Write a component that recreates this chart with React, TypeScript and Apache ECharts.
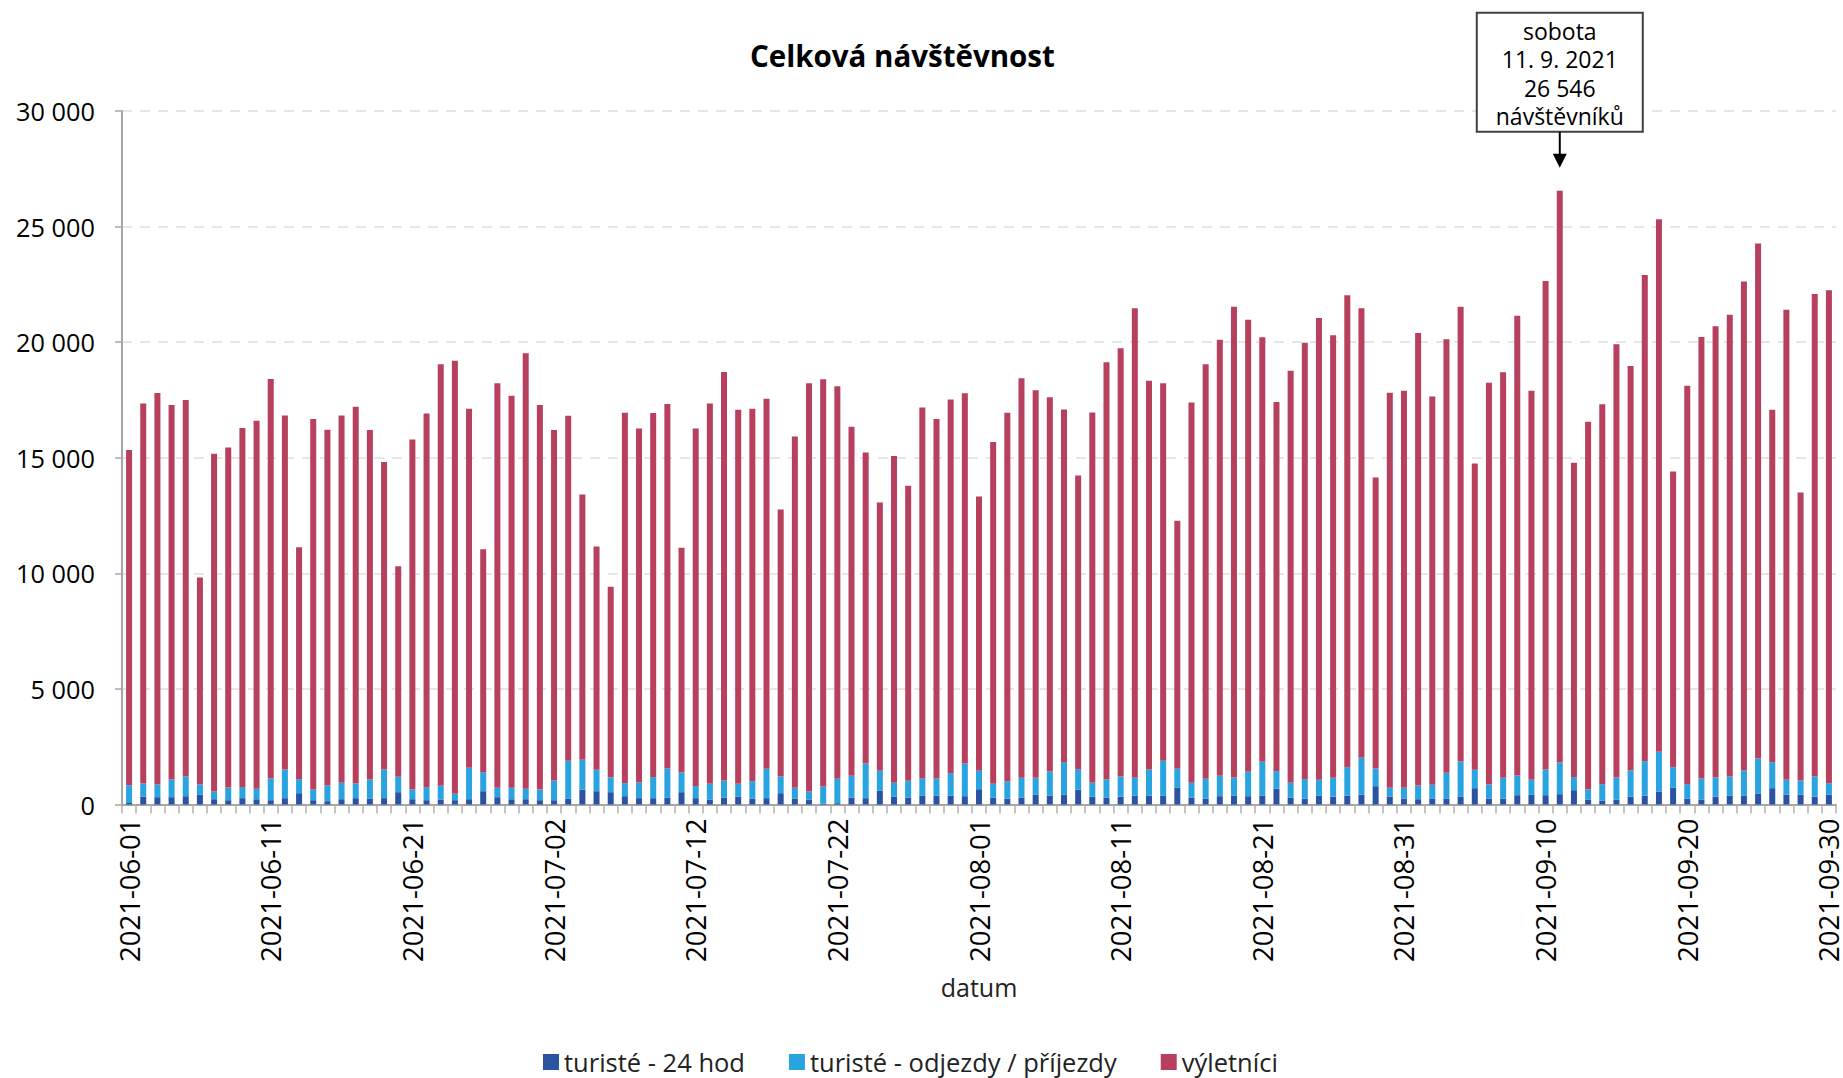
import React, { useEffect, useRef } from "react";
import * as echarts from "echarts";

// ---- data ----
const startDate = "2021-06-01";
const endDate = "2021-09-30";
const missingDates = ["2021-06-24"]; // one day has no record in the source

const seriesNames = ["turisté - 24 hod", "turisté - odjezdy / příjezdy", "výletníci"];

const turiste24: number[] = [
  60, 346, 317, 317, 360, 418, 230, 187, 274, 230, 187, 274, 490, 187, 144, 230, 274, 259, 274, 533,
  230, 187, 216, 187, 230, 576, 317, 230, 230, 187, 187, 259, 648, 576, 533, 360, 274, 274, 303, 533,
  274, 216, 303, 346, 259, 274, 490, 259, 216, 43, 58, 303, 274, 591, 331, 303, 389, 389, 389, 360,
  663, 303, 259, 303, 432, 389, 432, 648, 331, 303, 346, 389, 389, 389, 735, 303, 259, 360, 389, 360,
  389, 692, 303, 259, 389, 346, 389, 432, 793, 346, 259, 230, 259, 259, 331, 706, 259, 259, 403, 418,
  403, 447, 620, 216, 173, 216, 346, 389, 562, 721, 259, 216, 346, 389, 389, 476, 706, 432, 432, 346,
  432,
];

const turisteOdjezdy: number[] = [
  776, 562, 548, 764, 850, 447, 332, 548, 475, 447, 937, 1239, 605, 461, 677, 707, 634, 822, 1239, 663,
  418, 562, 591, 274, 1355, 822, 404, 491, 447, 461, 851, 1629, 1283, 923, 634, 562, 677, 908, 1253, 850,
  519, 677, 735, 547, 750, 1268, 720, 462, 346, 735, 1052, 936, 1498, 864, 606, 720, 749, 735, 966, 1412,
  792, 590, 735, 850, 721, 1038, 1398, 879, 606, 778, 864, 764, 1124, 1499, 807, 634, 851, 879, 778, 1052,
  1455, 749, 634, 836, 677, 807, 1225, 1585, 763, 375, 462, 591, 591, 1110, 1528, 793, 606, 894, 851, 648,
  1110, 1369, 562, 432, 706, 951, 1124, 1484, 1715, 893, 620, 908, 821, 821, 1081, 1513, 1124, 634, 606, 864,
  490,
];

const vyletnici: number[] = [
  14496, 16444, 16935, 16199, 16286, 8955, 14611, 14712, 15535, 15925, 17281, 15320, 10038, 16026, 15391, 15896, 16300, 15117, 13299, 9114,
  15146, 16170, 18233, 18738, 15536, 9648, 17497, 16963, 18840, 16632, 15160, 14930, 11482, 9663, 8249, 16026, 15319, 15752, 15767, 9721,
  15477, 16459, 17671, 16185, 16112, 16012, 11553, 15203, 17656, 17613, 16978, 15103, 13459, 11611, 14135, 12765, 16041, 15550, 16170, 16013,
  11871, 14785, 15954, 17281, 16762, 16185, 15262, 12708, 16025, 18046, 18523, 20312, 16820, 16330, 10731, 16458, 17930, 18869, 20370, 19562,
  18365, 15969, 17829, 18883, 19980, 19143, 20413, 19448, 12593, 17093, 17179, 19576, 16805, 18754, 19678, 13256, 17382, 17541, 19893, 16834,
  21135, 24730, 13602, 15910, 16430, 18739, 17498, 21035, 23040, 12795, 17238, 19100, 19518, 19980, 21149, 22275, 15248, 20341, 12461, 20875,
  21322,
];

const yTicks = [0, 5000, 10000, 15000, 20000, 25000, 30000];

const annotationLines = ["sobota", "11. 9. 2021", "26 546", "návštěvníků"];

const colors = ["#2b54a0", "#29a4e1", "#b6405d"];

function buildDates(): string[] {
  const out: string[] = [];
  const d = new Date(startDate + "T12:00:00Z");
  const end = new Date(endDate + "T12:00:00Z");
  while (d <= end) {
    const s = d.toISOString().slice(0, 10);
    if (!missingDates.includes(s)) out.push(s);
    d.setUTCDate(d.getUTCDate() + 1);
  }
  return out;
}

const fmt = (v: number) => String(v).replace(/\B(?=(\d{3})+(?!\d))/g, " ");

const FONT = "'Open Sans', 'Noto Sans', sans-serif";

export default function App() {
  const ref = useRef<HTMLDivElement>(null);

  useEffect(() => {
    if (!ref.current) return;
    const chart = echarts.init(ref.current, null, { renderer: "svg" });
    const dates = buildDates();
    const totals = dates.map((_, i) => turiste24[i] + turisteOdjezdy[i] + vyletnici[i]);

    const option: any = {
      animation: false,
      backgroundColor: "#ffffff",
      textStyle: { fontFamily: FONT },
      title: {
        text: "Celková návštěvnost",
        left: 745,
        top: 35,
        textStyle: { fontFamily: FONT, fontSize: 29.5, fontWeight: "bold", color: "#000" },
      },
      color: colors,
      legend: {
        bottom: -2,
        left: 538,
        itemWidth: 16,
        itemHeight: 16,
        itemGap: 44,
        icon: "rect",
        textStyle: { fontFamily: FONT, fontSize: 25.5, color: "#222" },
        data: seriesNames,
      },
      grid: { left: 122, right: 7, top: 111, bottom: 273.5 },
      xAxis: {
        type: "category",
        data: dates,
        name: "datum",
        nameLocation: "middle",
        nameGap: 170,
        nameTextStyle: { fontFamily: FONT, fontSize: 25, color: "#222" },
        axisLine: { lineStyle: { color: "#a6a6a6", width: 2 } },
        axisTick: { show: true, interval: 0, length: 9, lineStyle: { color: "#b0b0b0", width: 1.5 } },
        axisLabel: { interval: 9, rotate: 90, fontFamily: FONT, fontSize: 27.5, color: "#000", margin: 14 },
      },
      yAxis: {
        type: "value",
        min: 0,
        max: 30000,
        interval: 5000,
        axisLine: { show: true, lineStyle: { color: "#a6a6a6", width: 2 } },
        axisTick: { show: true, length: 7, lineStyle: { color: "#a6a6a6", width: 1.5 } },
        axisLabel: {
          fontFamily: FONT,
          fontSize: 25.3,
          color: "#000",
          margin: 27,
          formatter: (v: number) => (yTicks.includes(v) ? fmt(v) : ""),
        },
        splitLine: { show: true, lineStyle: { color: "#e6e6e6", width: 2, type: [10, 8] } },
      },
      series: [
        { name: seriesNames[0], type: "bar", stack: "total", barWidth: 6, data: turiste24, itemStyle: { color: colors[0] } },
        { name: seriesNames[1], type: "bar", stack: "total", barWidth: 6, data: turisteOdjezdy, itemStyle: { color: colors[1] } },
        { name: seriesNames[2], type: "bar", stack: "total", barWidth: 6, data: vyletnici, itemStyle: { color: colors[2] } },
      ],
    };
    chart.setOption(option);

    let peak = 0;
    totals.forEach((t, i) => {
      if (t > totals[peak]) peak = i;
    });
    const p = chart.convertToPixel({ gridIndex: 0 }, [peak, totals[peak]]) as number[];
    const cx = p[0];
    const tipY = p[1] - 23;
    const boxBottom = p[1] - 59;
    const boxH = 119;
    const boxW = 166;
    const boxTop = boxBottom - boxH;
    const lineH = 28.3;

    chart.setOption({
      graphic: [
        {
          type: "rect",
          shape: { x: cx - boxW / 2, y: boxTop, width: boxW, height: boxH },
          style: { fill: "#ffffff", stroke: "#404040", lineWidth: 2 },
          z: 100,
        },
        {
          type: "text",
          x: cx,
          y: boxTop + boxH / 2 + 1,
          style: {
            text: annotationLines.join("\n"),
            fill: "#000",
            fontFamily: FONT,
            fontSize: 23,
            lineHeight: lineH,
            align: "center",
            verticalAlign: "middle",
          },
          z: 101,
        },
        {
          type: "line",
          shape: { x1: cx, y1: boxBottom, x2: cx, y2: tipY - 12 },
          style: { stroke: "#000", lineWidth: 2 },
          z: 100,
        },
        {
          type: "polygon",
          shape: { points: [[cx - 7, tipY - 14], [cx + 7, tipY - 14], [cx, tipY]] },
          style: { fill: "#000" },
          z: 100,
        },
      ],
    });

    return () => chart.dispose();
  }, []);

  return (
    <div
      ref={ref}
      style={{ position: "absolute", left: 0, top: 0, width: 1843, height: 1078, background: "#fff" }}
    />
  );
}
